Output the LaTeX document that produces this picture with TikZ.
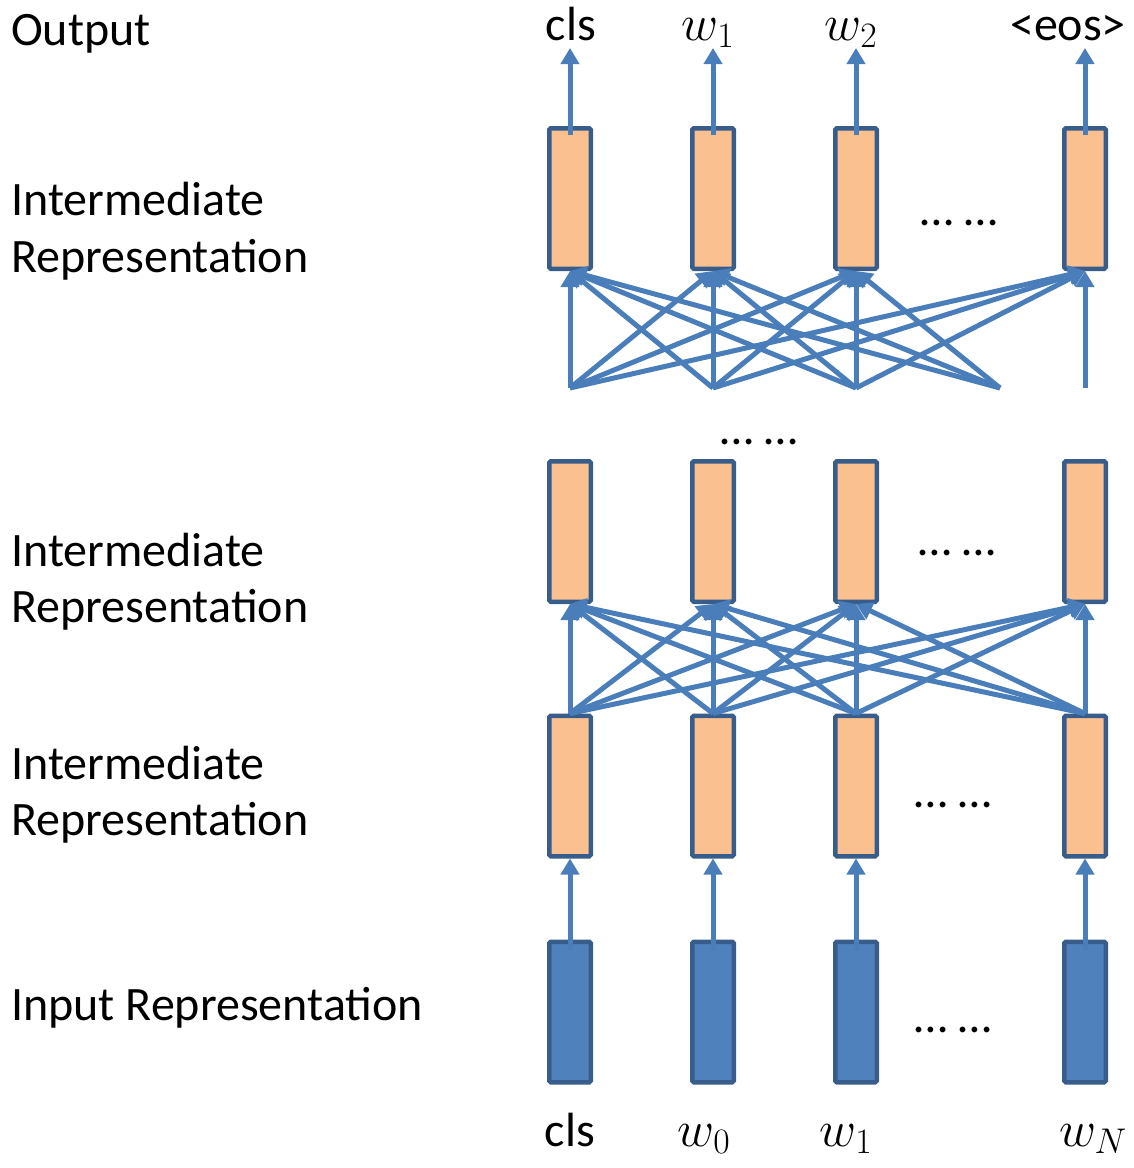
\RequirePackage{fix-cm}
\documentclass[tikz,border=0pt]{standalone}
\usepackage{fontspec}
\setmainfont{Carlito}
\usetikzlibrary{arrows.meta}
\definecolor{edgeblue}{HTML}{4A7EBB}
\definecolor{boxline}{HTML}{385D8A}
\definecolor{hidfill}{HTML}{FAC090}
\definecolor{infill}{HTML}{4F81BD}
\begin{document}
\begin{tikzpicture}[x=1pt,y=-1pt,
  cell/.style={draw=boxline, line width=4.5pt, rounded corners=1.5pt,
    minimum width=41.5pt, minimum height=140.5pt, inner sep=0pt},
  hid/.style={cell, fill=hidfill},
  inp/.style={cell, fill=infill},
  conn/.style={draw=edgeblue, line width=5pt,
    -{Triangle[width=18pt,length=16pt]}},
  lbl/.style={font=\fontsize{48}{57}\selectfont, inner sep=0pt, anchor=base},
  mlbl/.style={lbl, font=\fontsize{51}{60}\selectfont},
  side/.style={lbl, anchor=base west},
  gap/.style={lbl}
]
\useasboundingbox (0,0) rectangle (1134,1168);

% columns of cells: a = top layer, b, c = lower hidden layers, d = input
\foreach \n/\x in {1/570,2/713,3/856,4/1085} {
  \node[hid] (a\n) at (\x,198.5) {};
  \node[hid] (b\n) at (\x,531.5) {};
  \node[hid] (c\n) at (\x,786) {};
  \node[inp] (d\n) at (\x,1012) {};
}

% row captions
\node[side] (capout) at (11,45) {Output};
\node[side] (cap1a) at (11,215) {Intermediate};
\node[side] (cap1b) at (11,272) {Representation};
\node[side] (cap2a) at (11,566) {Intermediate};
\node[side] (cap2b) at (11,622) {Representation};
\node[side] (cap3a) at (11,779) {Intermediate};
\node[side] (cap3b) at (11,835) {Representation};
\node[side] (capin) at (11,1020) {Input Representation};

% output tokens
\node[lbl] (o1) at (571,40) {cls};
\node[mlbl] (o2) at (708,40) {$w_1$};
\node[mlbl] (o3) at (851,40) {$w_2$};
\node[lbl] (o4) at (1068,40) {<eos>};

% input tokens
\node[lbl] (i1) at (570,1146) {cls};
\node[mlbl] (i2) at (704,1146) {$w_0$};
\node[mlbl] (i3) at (846,1146) {$w_1$};
\node[mlbl] (i4) at (1093,1146) {$w_N$};

% ellipses
\node[gap] (g1) at (959,225) {… …};
\node[gap] (g2) at (759,444) {… …};
\node[gap] (g3) at (957,555) {… …};
\node[gap] (g4) at (953,807) {… …};
\node[gap] (g5) at (953,1032) {… …};

% output arrow tips
\foreach \n/\x in {1/570,2/713,3/856,4/1085}
  \coordinate (t\n) at (\x,48);
% sources feeding the top layer
\coordinate (s1) at (570,388);
\coordinate (s2) at (713,388);
\coordinate (s3) at (856,388);
\coordinate (s4) at (1000,388);
\coordinate (s5) at (1085,388);

% top layer to outputs
\foreach \n in {1,...,4}
  \draw[conn] ([yshift=-9pt]a\n.north) -- (t\n);

% fully connected block under the top layer
\foreach \i in {1,2,3}
  \foreach \j in {1,...,4}
    \draw[conn] (s\i) -- (a\j.south);
\foreach \j in {1,2,3}
  \draw[conn] (s4) -- (a\j.south);
\draw[conn] (s5) -- (a4.south);

% fully connected block between c and b
\foreach \i in {1,...,4}
  \foreach \j in {1,...,4}
    \draw[conn] (c\i.north) -- (b\j.south);

% input to first hidden layer
\foreach \n in {1,...,4}
  \draw[conn] ([yshift=-10pt]d\n.north) -- (c\n.south);
\end{tikzpicture}
\end{document}
